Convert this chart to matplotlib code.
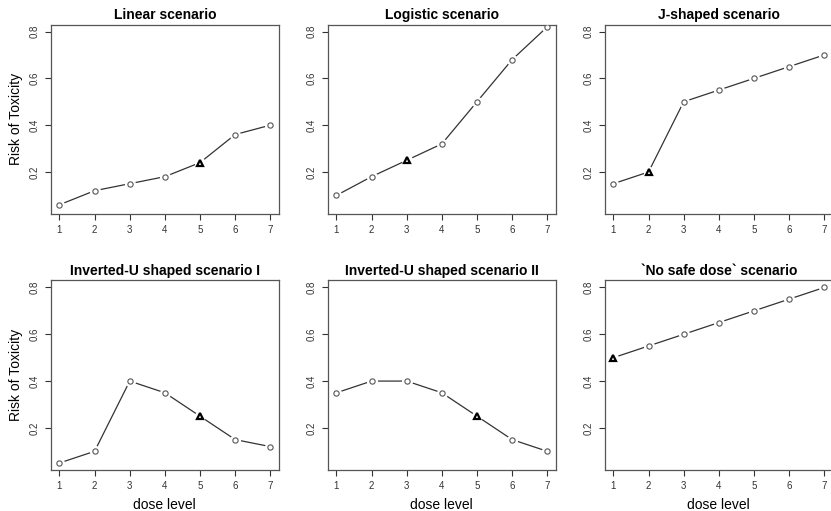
import numpy as np
from matplotlib import pyplot as plt

plt.rcParams['font.family'] = ['Liberation Sans', 'DejaVu Sans']

#dose levels shared by every scenario
doses = [1, 2, 3, 4, 5, 6, 7]

#scenario titles and true toxicity risks
titles = ["Linear scenario", "Logistic scenario", "J-shaped scenario",
          "Inverted-U shaped scenario I", "Inverted-U shaped scenario II",
          "`No safe dose` scenario"]
linear = [0.06, 0.12, 0.15, 0.18, 0.24, 0.36, 0.40]
logistic = [0.10, 0.18, 0.25, 0.32, 0.50, 0.68, 0.82]
jshaped = [0.15, 0.20, 0.50, 0.55, 0.60, 0.65, 0.70]
invu1 = [0.05, 0.10, 0.40, 0.35, 0.25, 0.15, 0.12]
invu2 = [0.35, 0.40, 0.40, 0.35, 0.25, 0.15, 0.10]
nosafe = [0.50, 0.55, 0.60, 0.65, 0.70, 0.75, 0.80]

#target dose (MTD) of each scenario, marked with a triangle
mtd = [5, 3, 2, 5, 5, 1]

risks = [linear, logistic, jshaped, invu1, invu2, nosafe]

fig = plt.figure(figsize=(8.31, 5.11), dpi=100)

lefts = [0.0614, 0.3947, 0.728]
bottoms = [0.581, 0.0802]
w = 0.274
h = 0.371

for k in range(6):
    row, col = divmod(k, 3)
    ax = fig.add_axes([lefts[col], bottoms[row], w, h])
    y = risks[k]
    #line with small gaps around points, like R type="b"
    ax.plot(doses, y, '-', color='#333333', lw=0.9, zorder=1)
    ax.plot(doses, y, 'o', ms=7, color='white', mec='white', zorder=2)
    others = [i for i in range(7) if doses[i] != mtd[k]]
    ax.plot([doses[i] for i in others], [y[i] for i in others], 'o', ms=3.8,
            mfc='white', mec='#555555', mew=0.8, zorder=3)
    j = doses.index(mtd[k])
    ax.plot(doses[j], y[j], '^', ms=4.8, mfc='white', mec='black', mew=1.6, zorder=4)

    ax.set_xlim(0.76, 7.24)
    ax.set_ylim(0.02, 0.83)
    ax.set_xticks(doses)
    ax.set_yticks([0.2, 0.4, 0.6, 0.8])
    ax.set_yticklabels(["0.2", "0.4", "0.6", "0.8"], rotation=90, va='center')
    ax.tick_params(direction='out', length=4, width=0.8, labelsize=7,
                   colors='#333333', pad=4)
    for s in ax.spines.values():
        s.set_color('#555555')
        s.set_linewidth(0.9)
    ax.set_title(titles[k], fontsize=10, fontweight='bold', pad=4)
    if col == 0:
        ax.set_ylabel("Risk of Toxicity", fontsize=10, labelpad=5)
    if row == 1:
        ax.set_xlabel("dose level", fontsize=10, labelpad=5)

plt.savefig("out.png", dpi=100)
